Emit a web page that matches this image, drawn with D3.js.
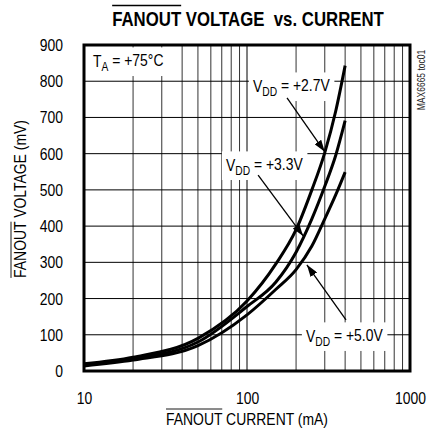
<!DOCTYPE html>
<html>
<head>
<meta charset="utf-8">
<script src="https://d3js.org/d3.v7.min.js"></script>
<style>
  body { margin: 0; background: #fff; }
  svg { display: block; }
  text { font-family: "Liberation Sans", Arial, sans-serif; fill: #000; }
</style>
</head>
<body>
<script>
'use strict';

// axis ticks
const xTicks = [10, 100, 1000];
const yTicks = [0, 100, 200, 300, 400, 500, 600, 700, 800, 900];
const gridCurrent = [20, 30, 40, 50, 60, 70, 80, 90, 100, 200, 300, 400, 500, 600, 700, 800, 900];
const gridVoltage = [100, 200, 300, 400, 500, 600, 700, 800];

// fanout current (mA) vs fanout voltage (mV)
const current27 = [10, 20, 50, 100, 150, 200, 250, 300, 350, 400];
const voltage27 = [20, 38, 90, 193, 295, 390, 500, 603, 717, 843];
const current33 = [10, 20, 50, 100, 150, 200, 250, 300, 350, 400];
const voltage33 = [17, 34, 80, 178, 245, 328, 420, 510, 595, 691];
const current50 = [10, 20, 50, 100, 150, 200, 250, 300, 350, 400];
const voltage50 = [14, 30, 70, 155, 225, 280, 345, 420, 486, 549];

// the fonts at hand are wider than the narrow face of the original
const NARROW = 0.82;

(function() {
  let svgContainer = "";

  window.onload = function() {
    svgContainer = d3.select('body')
      .append('svg')
      .attr('width', 427)
      .attr('height', 432);

    svgContainer.append('defs').append('marker')
      .attr('id', 'head')
      .attr('viewBox', '0 0 12 8')
      .attr('refX', 12)
      .attr('refY', 4)
      .attr('markerWidth', 12)
      .attr('markerHeight', 8)
      .attr('markerUnits', 'userSpaceOnUse')
      .attr('orient', 'auto')
      .append('path')
        .attr('d', 'M0,0L12,4L0,8Z')
        .attr('fill', '#000');

    let map = drawAxes();
    drawGrid(map);
    plotCurves(map);
    makeNotes(map);
    drawFrame(map);
    makeLabels();
  }

  // squash tick text sideways, keeping its anchor where the axis put it
  function squeeze(sel) {
    sel.each(function() {
      let t = d3.select(this);
      let x = +t.attr('x') || 0;
      t.attr('x', x / NARROW)
        .attr('transform', 'scale(' + NARROW + ',1)');
    });
  }

  function drawAxes() {
    let xScale = d3.scaleLog()
      .domain([10, 1000])
      .range([84, 410]);

    let yScale = d3.scaleLinear()
      .domain([0, 900])
      .range([371, 45]);

    let xAxis = d3.axisBottom(xScale)
      .tickValues(xTicks)
      .tickFormat(d3.format('d'))
      .tickSize(0)
      .tickPadding(21);
    let gx = svgContainer.append('g')
      .attr('transform', 'translate(0, 371)')
      .call(xAxis)
      .attr('font-family', null)
      .attr('font-size', 17);
    gx.select('.domain').remove();
    squeeze(gx.selectAll('text'));

    let yAxis = d3.axisLeft(yScale)
      .tickValues(yTicks)
      .tickSize(0)
      .tickPadding(21);
    let gy = svgContainer.append('g')
      .attr('transform', 'translate(84, 0)')
      .call(yAxis)
      .attr('font-family', null)
      .attr('font-size', 17);
    gy.select('.domain').remove();
    squeeze(gy.selectAll('text'));

    return { xScale: xScale, yScale: yScale };
  }

  function drawGrid(map) {
    let x = map.xScale, y = map.yScale;
    svgContainer.append('g').selectAll('line')
      .data(gridCurrent)
      .enter()
      .append('line')
        .attr('x1', (d) => x(d)).attr('x2', (d) => x(d))
        .attr('y1', y(0)).attr('y2', y(900))
        .attr('stroke', (d) => d == 100 ? '#000' : '#333')
        .attr('stroke-width', 1);

    svgContainer.append('g').selectAll('line')
      .data(gridVoltage)
      .enter()
      .append('line')
        .attr('x1', x(10)).attr('x2', x(1000))
        .attr('y1', (d) => y(d)).attr('y2', (d) => y(d))
        .attr('stroke', '#000')
        .attr('stroke-width', 1);
  }

  function plotCurves(map) {
    let series = [
      d3.zip(current27, voltage27),
      d3.zip(current33, voltage33),
      d3.zip(current50, voltage50)
    ];

    let line = d3.line()
      .x((d) => map.xScale(d[0]))
      .y((d) => map.yScale(d[1]))
      .curve(d3.curveMonotoneX);

    svgContainer.append('g').selectAll('path')
      .data(series)
      .enter()
      .append('path')
        .attr('d', line)
        .attr('fill', 'none')
        .attr('stroke', '#000')
        .attr('stroke-width', 3);
  }

  // label with a subscript, on a white box that hides the grid
  function subLabel(map, main, sub, rest, at) {
    let g = svgContainer.append('g')
      .attr('transform', 'translate(' + map.xScale(at[0]) + ',' + map.yScale(at[1]) + ')scale(' + NARROW + ',1)');
    let t = g.append('text')
      .style('font-size', '17px');
    t.append('tspan').text(main);
    t.append('tspan').attr('dy', '0.3em').style('font-size', '12.5px').text(sub);
    t.append('tspan').attr('dy', '-0.3em').attr('xml:space', 'preserve').style('white-space', 'pre').text(rest);

    let b = t.node().getBBox();
    g.insert('rect', 'text')
      .attr('x', b.x - 5)
      .attr('y', b.y - 3)
      .attr('width', b.width + 10)
      .attr('height', b.height + 6)
      .attr('fill', '#fff');
  }

  function makeNotes(map) {
    let notes = [
      { rest: ' = +2.7V', at: [108.8, 770], from: [176, 754], to: [300, 605] },
      { rest: ' = +3.3V', at: [74.3, 552], from: [117, 541], to: [221, 373] },
      { rest: ' = +5.0V', at: [230, 80], from: [405, 141], to: [233, 293] }
    ];

    subLabel(map, 'T', 'A', ' = +75°C', [11.35, 839]);

    notes.forEach((n) => {
      subLabel(map, 'V', 'DD', n.rest, n.at);
      svgContainer.append('line')
        .attr('x1', map.xScale(n.from[0]))
        .attr('y1', map.yScale(n.from[1]))
        .attr('x2', map.xScale(n.to[0]))
        .attr('y2', map.yScale(n.to[1]))
        .attr('stroke', '#000')
        .attr('stroke-width', 1.3)
        .attr('marker-end', 'url(#head)');
    });
  }

  function drawFrame(map) {
    svgContainer.append('rect')
      .attr('x', map.xScale(10))
      .attr('y', map.yScale(900))
      .attr('width', map.xScale(1000) - map.xScale(10))
      .attr('height', map.yScale(0) - map.yScale(900))
      .attr('fill', 'none')
      .attr('stroke', '#000')
      .attr('stroke-width', 3);
  }

  // text with a bar over the first word
  function overlined(parent, str, size, weight, rise) {
    let t = parent.append('text')
      .attr('text-anchor', 'middle')
      .attr('xml:space', 'preserve')
      .style('white-space', 'pre')
      .style('font-size', size + 'px')
      .style('font-weight', weight)
      .text(str);
    let n = t.node();
    let x0 = n.getStartPositionOfChar(0).x;
    let x1 = n.getEndPositionOfChar(5).x;
    parent.append('line')
      .attr('x1', x0).attr('x2', x1)
      .attr('y1', -rise).attr('y2', -rise)
      .attr('stroke', '#000')
      .attr('stroke-width', weight == 'bold' ? 1.6 : 1);
  }

  function makeLabels() {
    overlined(svgContainer.append('g').attr('transform', 'translate(248, 26)scale(0.84,1)'),
      'FANOUT VOLTAGE  vs. CURRENT', 20, 'bold', 20.5);

    overlined(svgContainer.append('g').attr('transform', 'translate(247, 425)scale(' + NARROW + ',1)'),
      'FANOUT CURRENT (mA)', 17, 'normal', 16);

    overlined(svgContainer.append('g').attr('transform', 'translate(26, 199)rotate(-90)scale(' + NARROW + ',1)'),
      'FANOUT VOLTAGE (mV)', 17, 'normal', 15);

    svgContainer.append('text')
      .attr('transform', 'translate(425, 80)rotate(-90)scale(0.85,1)')
      .attr('text-anchor', 'middle')
      .style('font-size', '10px')
      .style('fill', '#222')
      .text('MAX6665 toc01');
  }

})();
</script>
</body>
</html>
